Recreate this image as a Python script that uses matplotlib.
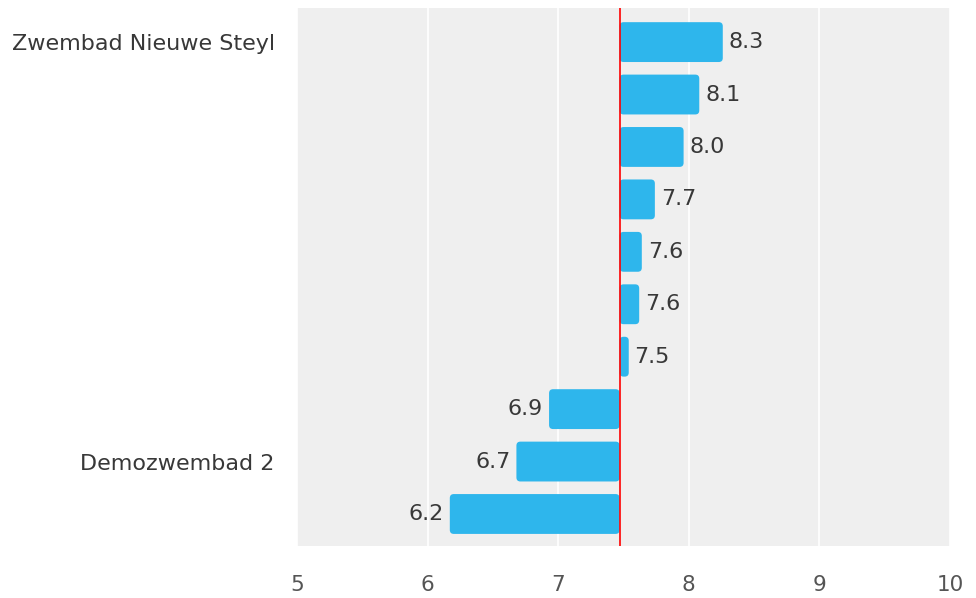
import matplotlib
matplotlib.use("Agg")
import matplotlib.pyplot as plt
from matplotlib.patches import FancyBboxPatch

# scores per pool, best on top; only some pools are named on the axis
pools = ["Zwembad Nieuwe Steyl", "", "", "", "", "", "", "", "Demozwembad 2", ""]
scores = [8.26, 8.08, 7.96, 7.74, 7.64, 7.62, 7.54, 6.93, 6.68, 6.17]
benchmark = 7.47

bar_color = "#2eb6ec"
text_color = "#383838"

fig = plt.figure(figsize=(9.76, 5.98), dpi=100)
ax = fig.add_axes([0.3043, 0.087, 0.6691, 0.8996])
ax.set_facecolor("#efefef")

ypos = list(range(len(scores)))
bars = ax.barh(ypos, [s - benchmark for s in scores], left=benchmark,
               height=0.76, color=bar_color)

ax.set_xlim(5, 10)
ax.set_ylim(len(scores) - 0.39, -0.65)

# swap the plain bars for rounded ones
x_px = ax.transData.transform((1, 0))[0] - ax.transData.transform((0, 0))[0]
y_px = abs(ax.transData.transform((0, 1))[1] - ax.transData.transform((0, 0))[1])
for b in bars:
    x0, y0 = b.get_x(), b.get_y()
    w, h = b.get_width(), b.get_height()
    if w < 0:
        x0, w = x0 + w, -w
    b.set_visible(False)
    ax.add_patch(FancyBboxPatch((x0, y0), w, h,
                                boxstyle="round,pad=0,rounding_size=%f" % (4 / x_px),
                                mutation_aspect=x_px / y_px,
                                facecolor=bar_color, edgecolor="none", zorder=2))

for y, s in zip(ypos, scores):
    if s >= benchmark:
        ax.text(s + 0.045, y, f"{s:.1f}", va="center", ha="left",
                fontsize=16, color=text_color, zorder=3)
    else:
        ax.text(s - 0.045, y, f"{s:.1f}", va="center", ha="right",
                fontsize=16, color=text_color, zorder=3)

ax.axvline(benchmark, color="#ff0000", linewidth=1.2, zorder=4)

ax.set_xticks([5, 6, 7, 8, 9, 10])
ax.set_xticklabels(["5", "6", "7", "8", "9", "10"])
ax.grid(axis="x", color="white", linewidth=1.2, zorder=0)
ax.set_axisbelow(True)

ax.set_yticks(ypos)
ax.set_yticklabels(pools)

ax.tick_params(axis="x", length=0, pad=21, labelsize=15.5, labelcolor="#555555")
ax.tick_params(axis="y", length=0, pad=16, labelsize=16, labelcolor=text_color)
for sp in ax.spines.values():
    sp.set_visible(False)

fig.savefig("out.png", dpi=100)
